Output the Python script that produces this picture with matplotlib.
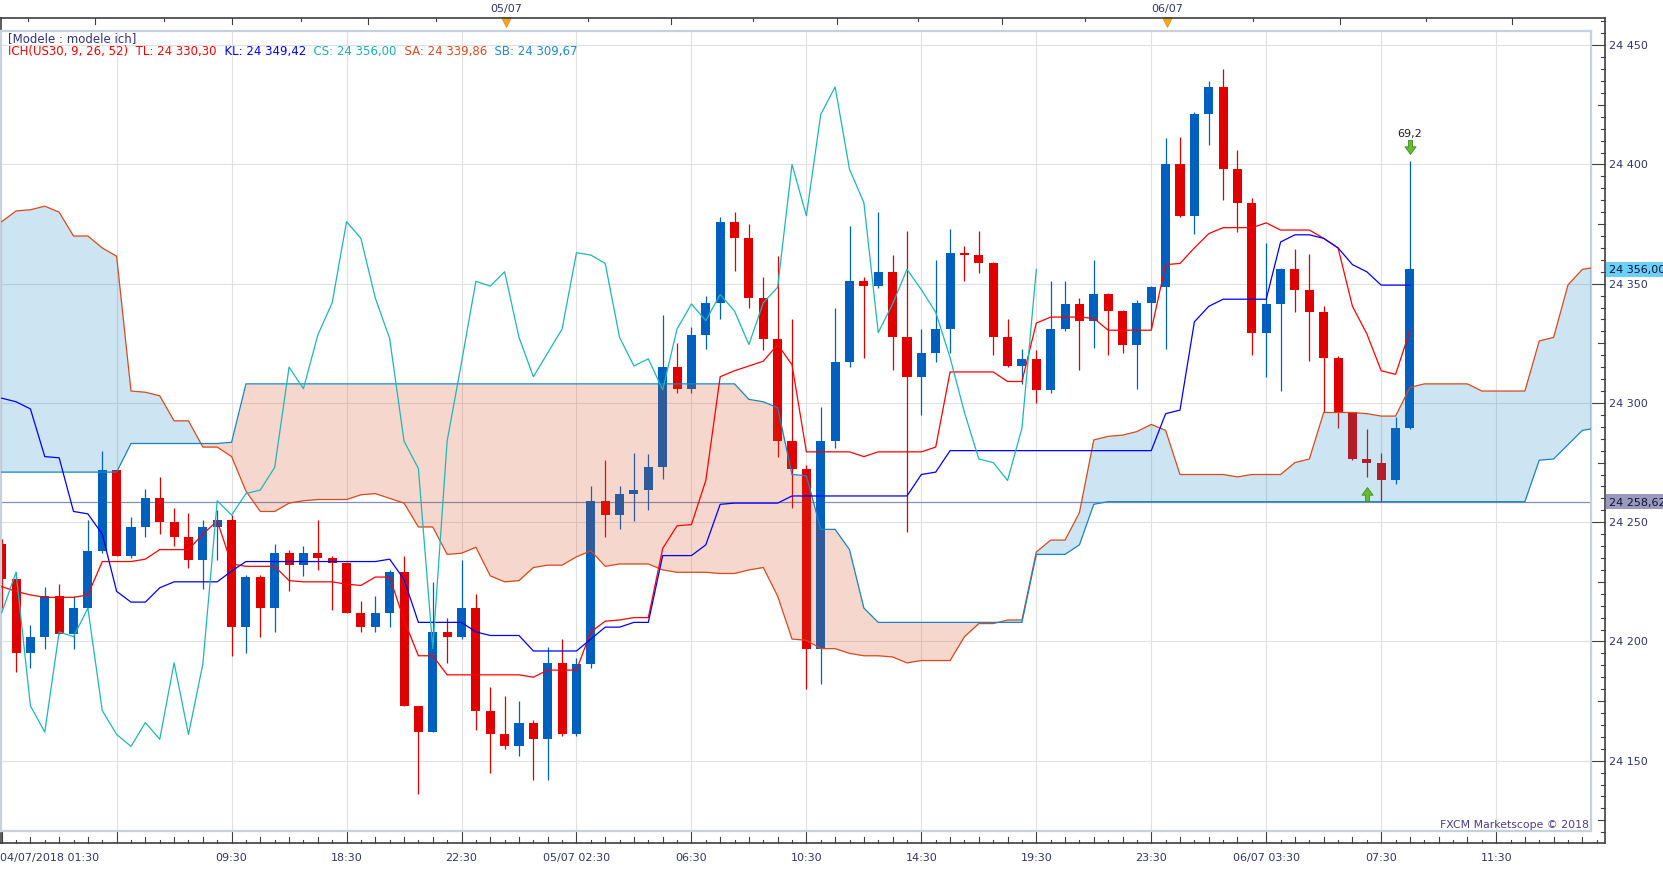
#!/usr/bin/env python
""" US30 hourly chart with Ichimoku cloud, Marketscope style.
"""

import numpy as np
import matplotlib
matplotlib.use('Agg')
from matplotlib import pyplot as plt
from matplotlib.path import Path
from matplotlib.patches import Rectangle

plt.rcParams['font.family'] = ['DejaVu Sans']

""" Candles (bar index 0..98) """
opens = [24241, 24226, 24195, 24202, 24219, 24203, 24214, 24238, 24272, 24236,
         24248, 24260, 24250, 24244, 24234, 24248, 24251, 24206, 24227, 24214,
         24237, 24232, 24237, 24235, 24233, 24212, 24206, 24212, 24229, 24173,
         24162, 24204, 24202, 24214, 24171, 24161, 24156, 24166, 24159, 24191,
         24161, 24190.5, 24259, 24253, 24262, 24263.5, 24273, 24315, 24306, 24328.5,
         24342, 24376, 24369, 24344, 24327, 24284, 24272.5, 24197, 24284, 24317,
         24351, 24349, 24355, 24327.5, 24311, 24321, 24331, 24363, 24362, 24358.5,
         24327.5, 24315.5, 24318.5, 24305.5, 24331, 24341.5, 24334.5, 24345.5, 24338.5, 24324.5,
         24342, 24348.5, 24400, 24378.5, 24421, 24432.5, 24398, 24384, 24329.5, 24341.5,
         24356, 24347.5, 24338, 24319, 24296, 24276.5, 24275, 24267.5, 24289.5]
highs = [24243, 24229, 24207, 24223, 24224, 24219, 24251, 24280, 24272, 24252,
         24264, 24269, 24256, 24254, 24251, 24255, 24253, 24228, 24228, 24241,
         24238.5, 24240, 24251, 24236, 24233, 24217, 24219, 24230, 24236, 24173,
         24225, 24210, 24234, 24220, 24181, 24177, 24175, 24167, 24197.5, 24201,
         24193, 24265, 24276, 24265, 24279, 24278.5, 24337, 24325, 24332, 24345,
         24378, 24380, 24375, 24353, 24361.5, 24335, 24274, 24298.5, 24340, 24374,
         24353, 24380, 24362, 24372, 24331, 24360, 24373, 24366, 24372, 24359,
         24335, 24322.5, 24322, 24351, 24351, 24344, 24360, 24346, 24339, 24343,
         24349, 24411, 24411.5, 24422, 24435, 24440, 24406, 24386, 24367, 24356.5,
         24364.5, 24362.5, 24340.5, 24319.5, 24296, 24289, 24279, 24294, 24401.5]
lows = [24214, 24187, 24189, 24197, 24203, 24197, 24214, 24237, 24236, 24235,
        24244, 24245, 24240, 24231, 24222, 24234, 24194, 24195, 24202, 24204,
        24221, 24227.5, 24230, 24213, 24212, 24204, 24204, 24206, 24173, 24136,
        24162, 24191, 24201, 24163, 24145, 24155, 24152, 24142, 24142, 24160.5,
        24160.5, 24189, 24244, 24247, 24250.5, 24255, 24268, 24304, 24304, 24322.5,
        24335, 24355.5, 24340, 24322, 24277.5, 24256, 24180, 24182, 24281, 24315,
        24319, 24348, 24314, 24246, 24295, 24317, 24321, 24351, 24354.5, 24320,
        24315, 24308, 24300, 24304, 24330, 24314, 24323, 24320, 24321, 24306,
        24331, 24322.5, 24378, 24371, 24408, 24385, 24371.5, 24320, 24311, 24305,
        24338, 24317.5, 24296, 24289.5, 24276, 24269, 24258.62, 24266, 24289]
closes = [24226, 24195, 24202, 24219, 24203, 24214, 24238, 24272, 24236, 24248,
          24260, 24250, 24244, 24234, 24248, 24251, 24206, 24227, 24214, 24237,
          24232, 24237, 24235, 24233, 24212, 24206, 24212, 24229, 24173, 24162,
          24204, 24202, 24214, 24171, 24161, 24156, 24166, 24159, 24191, 24161,
          24190.5, 24259, 24253, 24262, 24263.5, 24273, 24315, 24306, 24328.5, 24342,
          24376, 24369, 24344, 24327, 24284, 24272.5, 24197, 24284, 24317, 24351,
          24349, 24355, 24327.5, 24311, 24321, 24331, 24363, 24362, 24358.5, 24327.5,
          24315.5, 24318.5, 24305.5, 24331, 24341.5, 24334.5, 24345.5, 24338.5, 24324.5, 24342,
          24348.5, 24400, 24378.5, 24421, 24432.5, 24398, 24384, 24329.5, 24341.5, 24356,
          24347.5, 24338, 24319, 24296, 24276.5, 24275, 24267.5, 24289.5, 24356]

""" Ichimoku lines """
tenkan = [24223, 24221, 24219.5, 24218.5, 24218.5, 24218.5, 24219.5, 24233.5, 24233.5, 24233.5,
          24234.5, 24238.5, 24238.5, 24238.5, 24245, 24250.5, 24232.5, 24231.5, 24231.5, 24231.5,
          24225.5, 24225, 24225, 24225, 24224, 24223.5, 24227, 24227, 24209, 24194,
          24194, 24186, 24186, 24186, 24186, 24186, 24186, 24185, 24188, 24188,
          24188, 24204, 24208.5, 24209, 24210, 24210, 24239, 24248.5, 24249, 24267.5,
          24311, 24313.5, 24315.5, 24317.5, 24324.5, 24316, 24279.5, 24279.5, 24279.5, 24279.5,
          24277.5, 24279.5, 24279.5, 24279.5, 24279.5, 24281.5, 24313, 24313, 24313, 24313,
          24309, 24309, 24333.5, 24336, 24336, 24336, 24335.5, 24330.5, 24330.5, 24330.5,
          24330.5, 24358, 24358.5, 24365, 24371, 24373.5, 24373.5, 24373.5, 24375.5, 24372.5,
          24372.5, 24372.5, 24369, 24365, 24340.5, 24329, 24313.5, 24312, 24330.3]
kijun = [24302, 24300.5, 24297.5, 24277.5, 24277, 24254.5, 24253.5, 24245, 24221, 24216.5,
         24216.5, 24222.5, 24225, 24225, 24225, 24225, 24229.5, 24233.5, 24233.5, 24233.5,
         24233.5, 24233.5, 24233.5, 24233.5, 24233.5, 24233.5, 24233.5, 24234.5, 24226, 24208,
         24208, 24208, 24208, 24204, 24202.5, 24202.5, 24202.5, 24196, 24196, 24196,
         24196, 24201, 24206, 24206, 24208, 24208, 24236, 24236, 24236, 24240.5,
         24257.5, 24258, 24258, 24258, 24258, 24261, 24261, 24261, 24261, 24261,
         24261, 24261, 24261, 24261, 24270, 24271, 24280, 24280, 24280, 24280,
         24280, 24280, 24280, 24280, 24280, 24280, 24280, 24280, 24280, 24280,
         24280, 24295.5, 24297, 24334, 24340.5, 24343.5, 24343.5, 24343.5, 24343.5, 24367.5,
         24370.5, 24370.5, 24369, 24365, 24358, 24355, 24349.4, 24349.4, 24349.4]
senkou_a = [24376, 24380.5, 24381, 24382.5, 24380, 24370, 24370, 24365, 24361.5, 24305,
            24304.5, 24303, 24292.5, 24292.5, 24281.5, 24281.5, 24277.5, 24263, 24254.5, 24254.5,
            24258, 24259, 24259.5, 24259.5, 24259.5, 24261.5, 24262, 24260, 24258, 24248,
            24248, 24236.5, 24237, 24239.5, 24227.5, 24225, 24225.5, 24231, 24232, 24232,
            24235.5, 24238, 24231.5, 24232.5, 24232.5, 24232.5, 24230, 24229, 24229, 24229,
            24228.5, 24228.5, 24230, 24231, 24219, 24201, 24200.5, 24197, 24197, 24195,
            24194, 24194, 24193.5, 24191, 24192, 24192, 24192, 24202, 24207.5, 24207.5,
            24209, 24209, 24237.5, 24242.5, 24242.5, 24254, 24284.5, 24286, 24286.5, 24288,
            24291, 24288.5, 24270, 24270, 24270, 24270, 24269, 24270, 24270, 24270,
            24275, 24276.5, 24296, 24296, 24296, 24295.5, 24294.5, 24294.5, 24306.5, 24308,
            24308, 24308, 24308, 24305, 24305, 24305, 24305, 24326, 24327.5, 24349.5,
            24356, 24357]
senkou_b = [24271, 24271, 24271, 24271, 24271, 24271, 24271, 24271, 24271, 24283,
            24283, 24283, 24283, 24283, 24283, 24283, 24283.5, 24308, 24308, 24308,
            24308, 24308, 24308, 24308, 24308, 24308, 24308, 24308, 24308, 24308,
            24308, 24308, 24308, 24308, 24308, 24308, 24308, 24308, 24308, 24308,
            24308, 24308, 24308, 24308, 24308, 24308, 24308, 24308, 24308, 24308,
            24308, 24308, 24301.5, 24300.5, 24298, 24270, 24269.5, 24247, 24247, 24238.5,
            24214, 24208, 24208, 24208, 24208, 24208, 24208, 24208, 24208, 24208,
            24208, 24208, 24236.5, 24236.5, 24236.5, 24240.5, 24257.5, 24258.6, 24258.6, 24258.6,
            24258.6, 24258.6, 24258.6, 24258.6, 24258.6, 24258.6, 24258.6, 24258.6, 24258.6, 24258.6,
            24258.6, 24258.6, 24258.6, 24258.6, 24258.6, 24258.6, 24258.6, 24258.6, 24258.6, 24258.6,
            24258.6, 24258.6, 24258.6, 24258.6, 24258.6, 24258.6, 24258.6, 24276, 24276.5, 24282.5,
            24288.5, 24289.5]
chikou_shift = 26

last_close = 24356.00
low_mark = 24258.62
signal_text = '69,2'
signal_down = (98, 24407.5)
signal_up = (95, 24262)

bottom_labels = ['04/07/2018 01:30', '09:30', '18:30', '22:30', '05/07 02:30', '06:30', '10:30',
                 '14:30', '19:30', '23:30', '06/07 03:30', '07:30', '11:30']
bottom_label_idx = [0, 16, 24, 32, 40, 48, 56, 64, 72, 80, 88, 96, 104]
day_labels = ['05/07', '06/07']
day_idx = [35.1, 81.1]
top_ticks = [1.8, 6.5, 11.3, 16.05, 20.8, 25.5, 30.2, 40.8, 46.6, 52.3, 58.1, 63.8,
             69.6, 75.4, 87.1, 93.1, 99.1, 105.1]
top_ticks_tall = [6.5, 16.05, 25.5, 46.6, 58.1, 69.6, 93.1, 105.1]

legend_parts = [('ICH(US30, 9, 26, 52)  TL: 24 330,30', '#ff0000'),
                ('  KL: 24 349,42', '#0000ff'),
                ('  CS: 24 356,00', '#17b4b4'),
                ('  SA: 24 339,86', '#e04a1a'),
                ('  SB: 24 309,67', '#1e8ad0')]

""" Colours """
UP = '#0060c0'
DOWN = '#e00000'
C_TL = '#ff0000'
C_KL = '#0000ff'
C_CS = '#1ab8b8'
C_SA = '#d84a1a'
C_SB = '#1884c4'
TXT = '#33336e'

""" Layout, pixels of a 1663x870 image """
W, H = 1663, 870
X0, DX = 1.67, 14.37          # pixel x of bar 0, bar spacing
Y150, DY = 761.7, 2.385       # pixel y of 24150, pixels per point


def px2i(px):
    return (px - X0) / DX


def py2v(py):
    return 24150 + (Y150 - py) / DY


def box(l, t, r, b):
    return [l / W, 1 - b / H, (r - l) / W, (b - t) / H]


fig = plt.figure(figsize=(W / 100, H / 100), dpi=100)
fig.patch.set_facecolor('white')

""" Outer frame with the rulers """
FL, FT, FR, FB = 0.5, 19.3, 1605.0, 844.0
fr = fig.add_axes(box(FL, FT, FR, FB), zorder=0)
fr.set_xlim(px2i(FL), px2i(FR))
fr.set_ylim(py2v(FB), py2v(FT))
fr.set_xticks([])
fr.set_yticks([])
for s in fr.spines.values():
    s.set_color('#404040')
    s.set_linewidth(1.2)
fw, fh = FR - FL, FB - FT

xt = fr.get_xaxis_transform()
yt = fr.get_yaxis_transform()

# right price ticks and labels
for v in range(24120, 24461, 5):
    ln = 15 if v % 50 == 0 else (6.7 if v % 25 == 0 else 4)
    fr.plot([1 - ln / fw, 1], [v, v], color='#404040', lw=0.8, transform=yt, clip_on=False)
    if v % 50 == 0 and 24150 <= v <= 24450:
        fr.text(1 + 3.7 / fw, v, '{:,}'.format(v).replace(',', ' '), transform=yt,
                ha='left', va='center', fontsize=8, color=TXT)

# bottom time ticks and labels
for i in range(0, 112):
    ln = 12 if i % 8 == 0 else (6 if i % 2 == 0 else 3.5)
    fr.plot([i, i], [0, ln / fh], color='#404040', lw=0.8, transform=xt, clip_on=False)
for lab, i in zip(bottom_labels, bottom_label_idx):
    if i == 0:
        fr.text(px2i(0), -13.7 / fh, lab, transform=xt, ha='left', va='center', fontsize=8, color=TXT)
    else:
        fr.text(i, -13.7 / fh, lab, transform=xt, ha='center', va='center', fontsize=8, color=TXT)

# top ruler
for t in top_ticks:
    ln = 5.5 if t in top_ticks_tall else 3
    fr.plot([t, t], [1, 1 - ln / fh], color='#404040', lw=0.8, transform=xt, clip_on=False)
for lab, i in zip(day_labels, day_idx):
    fr.text(i, 1 + 10.3 / fh, lab, transform=xt, ha='center', va='center', fontsize=8, color=TXT)
    fr.plot([i], [1 - 4 / fh], marker='v', ms=6.5, color='#f5a623', mec='#e08a10', mew=0.5,
            transform=xt, clip_on=False)

# price boxes on the right axis
for v, bg in [(last_close, '#6ccff6'), (low_mark, '#9a9abf')]:
    fr.add_patch(Rectangle((1.0005, v - 7.5 / DY), 70 / fw, 15 / DY, transform=yt,
                           facecolor=bg, edgecolor='none', clip_on=False, zorder=5))
    fr.text(1 + 3.7 / fw, v, '{:,.2f}'.format(v).replace(',', ' ').replace('.', ','),
            transform=yt, ha='left', va='center', fontsize=8, color='#101030', zorder=6)

""" Main chart area """
PL, PT, PR, PB = 1.0, 31.5, 1590.5, 831.5
ax = fig.add_axes(box(PL, PT, PR, PB), zorder=1)
ax.set_xlim(px2i(PL), px2i(PR))
ax.set_ylim(py2v(PB), py2v(PT))
ax.set_xticks(range(8, 105, 8))
ax.set_yticks(range(24150, 24451, 50))
ax.tick_params(length=0, labelbottom=False, labelleft=False)
ax.grid(True, color='#e0e0e0', lw=0.8)
ax.set_axisbelow(True)
for s in ax.spines.values():
    s.set_color('#c8d0dc')
    s.set_linewidth(1.6)

o = np.array(opens)
h = np.array(highs)
l = np.array(lows)
c = np.array(closes)
idx = np.arange(len(c))
cols = [UP if cc >= oo else DOWN for oo, cc in zip(o, c)]

ax.axhline(low_mark, color='#8090b8', lw=0.9, zorder=1.5)
ax.vlines(idx, l, h, colors=cols, lw=0.9, zorder=2)
body = np.maximum(np.abs(c - o), 0.7)
ax.bar(idx, body, bottom=np.minimum(o, c), width=0.63, color=cols, lw=0, zorder=2.5)

# cloud drawn over the candles, slightly transparent
cx = np.arange(len(senkou_a))
sa = np.array(senkou_a)
sb = np.array(senkou_b)
ax.fill_between(cx, sa, sb, where=sa >= sb, interpolate=True, color=C_SB, alpha=0.215, lw=0, zorder=3)
ax.fill_between(cx, sa, sb, where=sa < sb, interpolate=True, color=C_SA, alpha=0.215, lw=0, zorder=3)
ax.plot(cx, sa, color=C_SA, lw=0.9, zorder=4)
ax.plot(cx, sb, color=C_SB, lw=0.9, zorder=4)

ax.plot(idx, tenkan, color=C_TL, lw=0.9, zorder=4)
ax.plot(idx, kijun, color=C_KL, lw=0.9, zorder=4)
ax.plot(idx[:len(c) - chikou_shift], c[chikou_shift:], color=C_CS, lw=0.9, zorder=4)

# signal arrows
arrow_up = Path([(-0.3, -1), (0.3, -1), (0.3, -0.1), (0.8, -0.1), (0, 1), (-0.8, -0.1),
                 (-0.3, -0.1), (-0.3, -1)], closed=True)
arrow_down = Path([(-0.3, 1), (0.3, 1), (0.3, 0.1), (0.8, 0.1), (0, -1), (-0.8, 0.1),
                   (-0.3, 0.1), (-0.3, 1)], closed=True)
ax.plot([signal_down[0]], [signal_down[1]], marker=arrow_down, ms=10, mfc='#66bb2e',
        mec='#3f8f1c', mew=0.6, zorder=6)
ax.plot([signal_up[0]], [signal_up[1]], marker=arrow_up, ms=10, mfc='#66bb2e',
        mec='#3f8f1c', mew=0.6, zorder=6)
ax.text(signal_down[0], signal_down[1] + 5.5, signal_text, ha='center', va='center',
        fontsize=8, color='#202020', zorder=6)

ax.text(1 - 2 / (PR - PL), (PB - 825) / (PB - PT), 'FXCM Marketscope \u00a9 2018',
        transform=ax.transAxes, ha='right', va='center', fontsize=7.8, color='#4a3c8c')

""" Indicator caption """
fig.text(8.4 / W, 1 - 38.5 / H, '[Modele : modele ich]', ha='left', va='center',
         fontsize=8.5, color='#303080')
prev = None
for txt, col in legend_parts:
    if prev is None:
        prev = fig.text(8.4 / W, 1 - 51 / H, txt, ha='left', va='center', fontsize=8.5, color=col)
    else:
        prev = ax.annotate(txt, xy=(1, 0), xycoords=prev, ha='left', va='bottom',
                           fontsize=8.5, color=col, annotation_clip=False)

fig.savefig('out.png', dpi=100)
